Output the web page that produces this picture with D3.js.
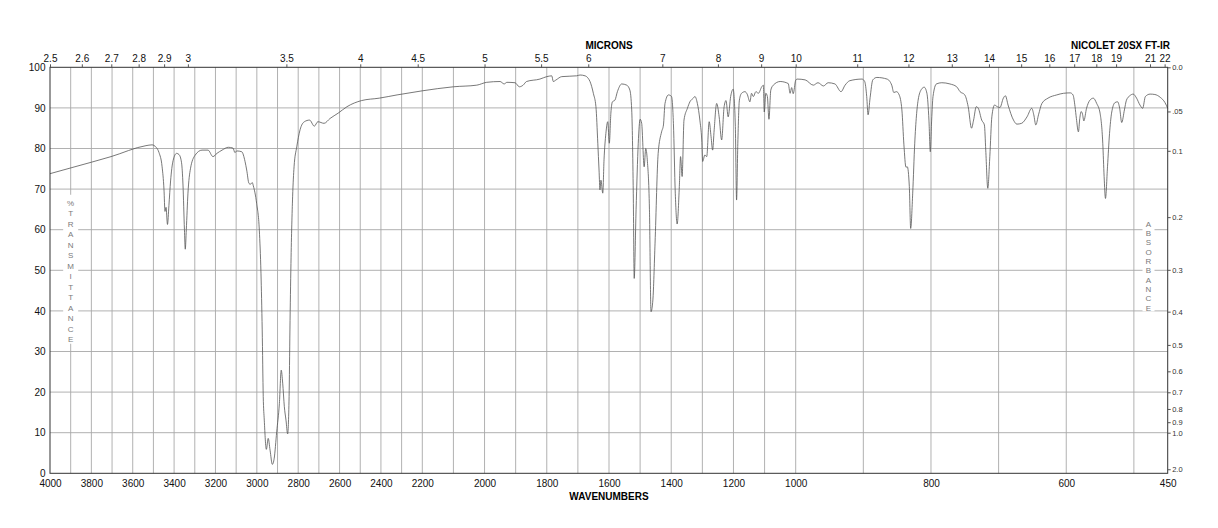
<!DOCTYPE html>
<html>
<head>
<meta charset="utf-8">
<script src="https://cdnjs.cloudflare.com/ajax/libs/d3/7.8.5/d3.min.js"></script>
<style>
  body { margin: 0; background: #fff; }
  text { font-family: "Liberation Sans", Arial, Helvetica, sans-serif; }
</style>
</head>
<body>
<div id="chart"></div>
<script>
// wavenumber tick labels (bottom)
var wnTicks = [4000, 3800, 3600, 3400, 3200, 3000, 2800, 2600, 2400, 2200, 2000,
               1800, 1600, 1400, 1200, 1000, 800, 600, 450];
// micron labels (top)
var micronTicks = [2.5, 2.6, 2.7, 2.8, 2.9, 3, 3.5, 4, 4.5, 5, 5.5, 6, 7, 8, 9, 10,
                   11, 12, 13, 14, 15, 16, 17, 18, 19, 21, 22];
// %T ticks (left)
var pctTicks = [0, 10, 20, 30, 40, 50, 60, 70, 80, 90, 100];
// absorbance ticks (right)
var absTicks  = [0, 0.05, 0.1, 0.2, 0.3, 0.4, 0.5, 0.6, 0.7, 0.8, 0.9, 1.0, 2.0];
var absLabels = ["0.0", ".05", "0.1", "0.2", "0.3", "0.4", "0.5", "0.6", "0.7", "0.8", "0.9", "1.0", "2.0"];

// spectrum: [wavenumber, %T]
var spectrum = [
  [4000, 73.8], [3894, 75.3], [3705, 78.0], [3536, 80.7], [3507, 80.9], [3487, 80.3],
  [3473, 79.0], [3458, 75.5], [3449, 70.0], [3444, 64.5], [3439, 65.5], [3432, 61.3],
  [3425, 66.0], [3417, 72.0], [3405, 77.0], [3388, 78.8], [3376, 78.5], [3364, 76.5],
  [3357, 71.0], [3350, 60.0], [3346, 55.2], [3341, 60.0], [3333, 69.0], [3321, 75.0],
  [3299, 78.3], [3265, 79.6], [3236, 79.6], [3212, 78.0], [3193, 78.8], [3168, 79.6],
  [3138, 80.3], [3115, 80.1], [3106, 79.0], [3097, 79.4], [3073, 79.2], [3057, 76.8],
  [3049, 74.7], [3038, 71.4], [3031, 71.2], [3022, 71.6], [3017, 70.8], [3001, 66.5],
  [2988, 59.9], [2980, 49.3], [2974, 35.3], [2969, 18.9], [2964, 13.1], [2954, 5.9],
  [2945, 8.6], [2936, 5.7], [2925, 2.2], [2916, 3.7], [2904, 10.2], [2891, 17.2],
  [2882, 25.4], [2875, 22.2], [2867, 16.4], [2859, 13.1], [2851, 9.7], [2844, 18.9],
  [2840, 35.3], [2835, 51.7], [2827, 68.1], [2820, 75.5], [2807, 80.4], [2791, 84.6],
  [2770, 86.6], [2745, 87.0], [2722, 85.5], [2705, 86.6], [2675, 86.2], [2646, 87.4],
  [2607, 88.7], [2564, 90.3], [2494, 91.8], [2408, 92.4], [2322, 93.2], [2201, 94.2],
  [2100, 95.2], [2025, 95.6], [1993, 96.3], [1950, 96.5], [1937, 95.9], [1928, 96.3],
  [1902, 96.2], [1888, 95.2], [1876, 95.6], [1865, 96.5], [1822, 97.1], [1800, 97.7],
  [1784, 97.9], [1779, 96.5], [1770, 96.9], [1752, 97.7], [1704, 97.9], [1693, 98.1],
  [1677, 97.9], [1667, 97.3], [1661, 96.5], [1650, 93.5], [1642, 90.3], [1636, 81.3],
  [1632, 74.7], [1629, 69.8], [1626, 72.2], [1620, 69.0], [1616, 77.2], [1610, 83.7],
  [1604, 86.6], [1599, 81.3], [1594, 88.7], [1589, 91.5], [1581, 91.9], [1573, 94.0],
  [1559, 95.9], [1543, 95.6], [1533, 94.4], [1527, 89.5], [1522, 69.0], [1519, 48.0],
  [1513, 64.9], [1506, 81.3], [1500, 87.2], [1495, 86.2], [1487, 75.5], [1482, 80.0],
  [1477, 77.2], [1470, 64.9], [1465, 39.8], [1459, 42.7], [1452, 56.7], [1442, 78.8],
  [1431, 84.1], [1425, 85.8], [1420, 91.1], [1409, 93.2], [1399, 92.8], [1393, 86.2],
  [1387, 69.0], [1381, 61.4], [1374, 70.6], [1370, 78.0], [1365, 73.1], [1359, 87.0],
  [1348, 89.9], [1340, 91.5], [1329, 92.4], [1324, 92.8], [1316, 91.1], [1308, 87.0],
  [1302, 82.1], [1299, 76.8], [1292, 78.4], [1286, 78.0], [1278, 86.6], [1272, 82.9],
  [1267, 79.6], [1262, 84.6], [1254, 91.1], [1246, 87.8], [1238, 82.1], [1230, 90.3],
  [1224, 91.8], [1217, 87.8], [1209, 92.8], [1201, 94.6], [1194, 85.4], [1190, 67.3],
  [1186, 81.3], [1181, 91.9], [1174, 93.6], [1163, 94.0], [1156, 93.4], [1147, 91.5],
  [1142, 93.6], [1136, 92.8], [1128, 94.0], [1120, 93.6], [1109, 95.2], [1104, 95.6],
  [1101, 89.0], [1096, 93.6], [1091, 92.8], [1086, 87.2], [1080, 94.4], [1072, 95.6],
  [1050, 96.5], [1024, 96.0], [1018, 93.6], [1013, 95.0], [1008, 93.5], [1000, 96.8],
  [998, 97.1], [986, 96.9], [974, 95.6], [967, 96.2], [959, 95.4], [952, 96.2],
  [942, 95.9], [933, 94.0], [927, 95.6], [920, 96.7], [902, 97.1], [898, 96.5],
  [895, 92.8], [893, 88.3], [890, 92.5], [886, 96.9], [880, 97.5], [865, 97.1],
  [858, 95.6], [855, 93.8], [851, 94.0], [847, 93.2], [843, 89.5], [840, 80.9],
  [837, 75.4], [835, 75.5], [832, 70.6], [830, 60.3], [827, 69.0], [824, 81.3],
  [819, 91.9], [814, 94.6], [810, 95.1], [806, 93.6], [803, 87.0], [801, 79.2],
  [799, 87.0], [797, 92.8], [792, 95.9], [784, 96.2], [772, 95.9], [762, 95.2],
  [757, 94.0], [750, 93.2], [745, 90.3], [740, 85.0], [737, 87.0], [733, 90.3],
  [730, 89.9], [725, 87.0], [721, 85.8], [719, 79.6], [716, 70.2], [713, 78.0],
  [710, 87.8], [706, 90.7], [702, 90.3], [698, 90.1], [693, 92.4], [690, 93.0],
  [686, 90.7], [678, 87.0], [673, 86.0], [666, 86.2], [658, 87.8], [651, 89.9],
  [648, 88.3], [645, 85.8], [641, 88.3], [636, 91.1], [627, 92.4], [614, 93.2],
  [604, 93.6], [594, 93.7], [590, 93.2], [587, 90.3], [585, 87.4], [582, 84.1],
  [580, 87.4], [578, 89.1], [576, 88.5], [574, 86.8], [570, 89.9], [565, 91.9],
  [560, 92.4], [555, 91.1], [550, 88.7], [546, 81.3], [544, 73.1], [542, 67.7],
  [539, 75.5], [536, 83.7], [533, 88.7], [528, 91.3], [524, 91.5], [521, 89.9],
  [518, 86.4], [514, 89.5], [511, 91.9], [506, 93.0], [501, 93.4], [496, 92.4],
  [491, 90.7], [487, 89.9], [483, 92.8], [476, 93.4], [469, 93.3], [461, 92.6],
  [454, 91.3], [450, 89.9]
];

var W = 1218, H = 528;
var plotL = 50, plotR = 1167.7, plotT = 67.3, plotB = 473.3;

var svg = d3.select("#chart").append("svg")
    .attr("width", W)
    .attr("height", H);

// three equal-width pieces: 4000-2200, 2200-1000, 1000-450
var x = d3.scaleLinear()
    .domain([4000, 2200, 1000, 450])
    .range([plotL, 422.3, 795.7, plotR]);

var y = d3.scaleLinear()
    .domain([0, 100])
    .range([plotB, plotT]);

// grid
var gridX = d3.range(3900, 450, -100);
svg.append("g")
    .selectAll("line")
    .data(gridX)
    .enter()
    .append("line")
    .attr("x1", d => x(d)).attr("x2", d => x(d))
    .attr("y1", plotT).attr("y2", plotB)
    .attr("stroke", "#a8a8a8")
    .attr("stroke-width", 0.9);

svg.append("g")
    .selectAll("line")
    .data(pctTicks.slice(1, -1))
    .enter()
    .append("line")
    .attr("x1", plotL).attr("x2", plotR)
    .attr("y1", d => y(d)).attr("y2", d => y(d))
    .attr("stroke", "#a8a8a8")
    .attr("stroke-width", 0.9);

// vertical captions with white boxes behind them
function stacked(str, cx, y0, step, boxW) {
    var chars = str.split("");
    svg.append("rect")
        .attr("x", cx - boxW / 2)
        .attr("y", y0 - step / 2 - 3)
        .attr("width", boxW)
        .attr("height", step * (chars.length - 1) + step + 2)
        .attr("fill", "#fff");
    svg.append("g")
        .selectAll("text")
        .data(chars)
        .enter()
        .append("text")
        .attr("x", cx)
        .attr("y", (d, i) => y0 + i * step)
        .attr("dy", "0.35em")
        .attr("text-anchor", "middle")
        .attr("font-size", "8px")
        .attr("fill", "#7a7a7a")
        .text(d => d);
}
stacked("%TRANSMITTANCE", x(3900), 203, 10.5, 15);
stacked("ABSORBANCE", 1148.5, 224, 9.3, 12);

// spectrum
var line = d3.line()
    .x(d => x(d[0]))
    .y(d => y(d[1]))
    .curve(d3.curveMonotoneX);

svg.append("path")
    .datum(spectrum)
    .attr("d", line)
    .attr("fill", "none")
    .attr("stroke", "#555")
    .attr("stroke-width", 0.8);

// frame
svg.append("rect")
    .attr("x", plotL).attr("y", plotT)
    .attr("width", plotR - plotL).attr("height", plotB - plotT)
    .attr("fill", "none")
    .attr("stroke", "#333")
    .attr("stroke-width", 1);

// bottom axis: wavenumbers
var xAxis = d3.axisBottom(x)
    .tickValues(wnTicks)
    .tickSize(0)
    .tickPadding(6.5)
    .tickFormat(d3.format("d"));

var gx = svg.append("g")
    .attr("transform", "translate(0," + plotB + ")")
    .call(xAxis);
gx.select(".domain").remove();
gx.selectAll("text").attr("font-size", "10px").attr("fill", "#111");

// top axis: microns
var topAxis = d3.axisTop(x)
    .tickValues(micronTicks.map(m => 10000 / m))
    .tickSize(3)
    .tickPadding(2)
    .tickFormat((d, i) => micronTicks[i]);

var gt = svg.append("g")
    .attr("transform", "translate(0," + plotT + ")")
    .call(topAxis);
gt.select(".domain").remove();
gt.selectAll("line").attr("stroke", "#555");
gt.selectAll("text").attr("font-size", "10px").attr("fill", "#111");

// left axis: %T
var yAxis = d3.axisLeft(y)
    .tickValues(pctTicks)
    .tickSize(0)
    .tickPadding(4.5);

var gy = svg.append("g")
    .attr("transform", "translate(" + plotL + ",0)")
    .call(yAxis);
gy.select(".domain").remove();
gy.selectAll("text").attr("font-size", "10px").attr("fill", "#111");

// right axis: absorbance, A = -log10(T/100), placed on the %T scale
var rAxis = d3.axisRight(y)
    .tickValues(absTicks.map(a => 100 * Math.pow(10, -a)))
    .tickSize(3)
    .tickPadding(1.5)
    .tickFormat((d, i) => absLabels[i]);

var gr = svg.append("g")
    .attr("transform", "translate(" + plotR + ",0)")
    .call(rAxis);
gr.select(".domain").remove();
gr.selectAll("line").attr("stroke", "#555");
gr.selectAll("text").attr("font-size", "7.5px").attr("fill", "#333");

// titles
svg.append("text")
    .attr("x", 609).attr("y", 48.5)
    .attr("text-anchor", "middle")
    .attr("font-size", "10px")
    .attr("font-weight", "bold")
    .text("MICRONS");

svg.append("text")
    .attr("x", 1170).attr("y", 48.5)
    .attr("text-anchor", "end")
    .attr("font-size", "10px")
    .attr("font-weight", "bold")
    .text("NICOLET 20SX FT-IR");

svg.append("text")
    .attr("x", 609).attr("y", 500.3)
    .attr("text-anchor", "middle")
    .attr("font-size", "10px")
    .attr("font-weight", "bold")
    .text("WAVENUMBERS");
</script>
</body>
</html>
